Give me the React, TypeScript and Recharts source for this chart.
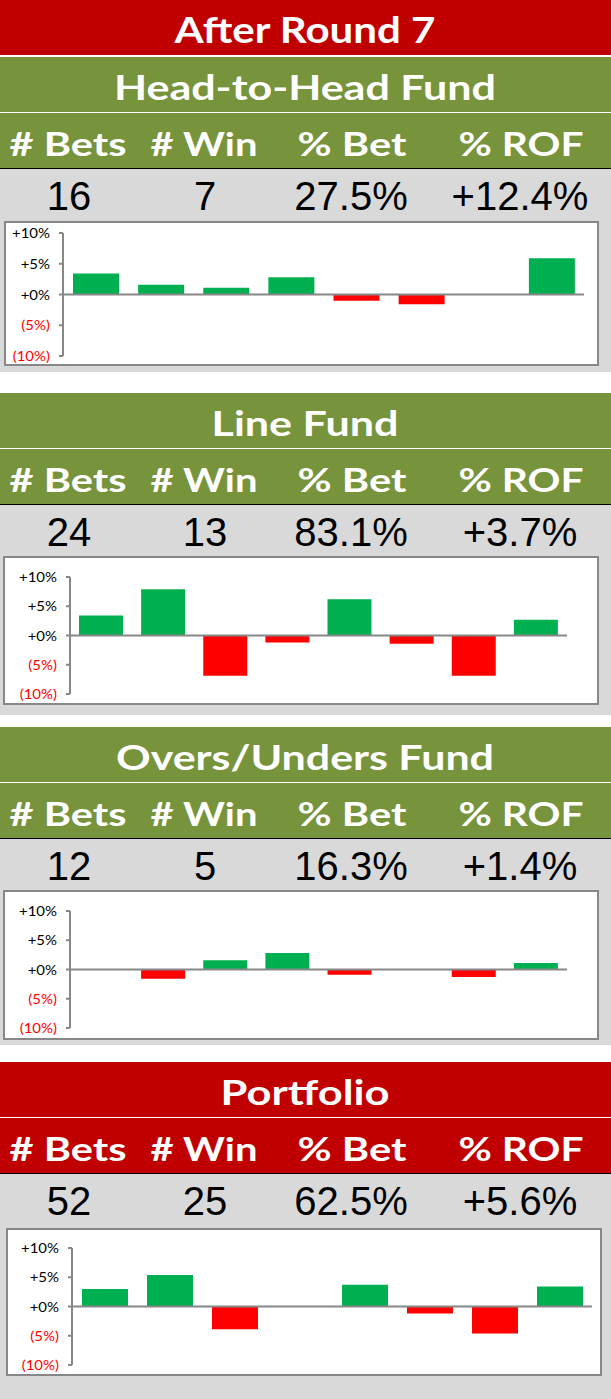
import React from "react";
import { BarChart, Bar, XAxis, YAxis, ReferenceLine, Cell } from "recharts";

const rounds = ["1", "2", "3", "4", "5", "6", "7", "8"];
const yTicks = [-10, -5, 0, 5, 10];
const statHeaders = ["# Bets", "# Win", "% Bet", "% ROF"];

const h2hStats = ["16", "7", "27.5%", "+12.4%"];
const lineStats = ["24", "13", "83.1%", "+3.7%"];
const ouStats = ["12", "5", "16.3%", "+1.4%"];
const portfolioStats = ["52", "25", "62.5%", "+5.6%"];

const h2hReturns = [3.4, 1.6, 1.1, 2.8, -1.0, -1.6, 0, 5.9];
const lineReturns = [3.4, 7.9, -6.9, -1.2, 6.2, -1.4, -6.9, 2.7];
const ouReturns = [-0.1, -1.6, 1.6, 2.8, -0.9, 0, -1.3, 1.1];
const portfolioReturns = [3.0, 5.4, -3.9, 0, 3.7, -1.2, -4.6, 3.4];

const RED = "#C00000";
const GREEN = "#77933C";
const GREY = "#D9D9D9";
const AXIS = "#878787";
const W = 611;
const colX = [68, 204, 352, 521];
const numX = [69, 205, 351, 520];
const headFont = "Lato, 'DejaVu Sans', sans-serif";
const numFont = "'Liberation Sans', Arial, sans-serif";

// the sheet's bold headings are set wider than Lato, so stretch them to the sheet's widths
const textWidths: Record<string, number> = {
  "After Round 7": 261,
  "Head-to-Head Fund": 382,
  "Line Fund": 187,
  "Overs/Unders Fund": 378,
  Portfolio: 169,
  "# Bets": 117,
  "# Win": 107,
  "% Bet": 109,
  "% ROF": 125,
};

const fmtPct = (v: number) => (v < 0 ? `(${-v}%)` : `+${v}%`);

const YTick = (props: any) => {
  const { x, y, payload } = props;
  const v = payload.value;
  return (
    <text
      transform={`translate(${x},${y}) scale(1.15,1)`}
      x={0}
      y={0}
      textAnchor="end"
      dominantBaseline="central"
      fontFamily={headFont}
      fontSize={13}
      fill={v < 0 ? "#FF0000" : "#000000"}
    >
      {fmtPct(v)}
    </text>
  );
};

const HeadText = ({ x, text, size }: { x: number; text: string; size: number }) => (
  <text
    x={x}
    y={43}
    textAnchor="middle"
    fontFamily={headFont}
    fontWeight={700}
    fontSize={size}
    fill="#ffffff"
    textLength={textWidths[text]}
    lengthAdjust="spacingAndGlyphs"
  >
    {text}
  </text>
);

const Band = ({ top, color, text, size }: { top: number; color: string; text: string; size: number }) => (
  <div style={{ position: "absolute", left: 0, top, width: W, height: 55, background: color }}>
    <svg width={W} height={55} style={{ display: "block" }}>
      <HeadText x={305} text={text} size={size} />
    </svg>
  </div>
);

interface SectionProps {
  top: number;
  color: string;
  title: string;
  stats: string[];
  values: number[];
  greyEnd: number;
  box: { x: number; y: number; w: number; h: number };
  yWidth: number;
  margin: { top: number; right: number; bottom: number };
  barSize: number;
}

const Section = ({ top, color, title, stats, values, greyEnd, box, yWidth, margin, barSize }: SectionProps) => {
  const chartData = rounds.map((r, i) => ({ round: r, ret: values[i] }));
  const greyTop = top + 112;
  return (
    <>
      <Band top={top} color={color} text={title} size={35} />
      <div style={{ position: "absolute", left: 0, top: top + 55, width: W, height: 1, background: "#ffffff" }} />
      <div style={{ position: "absolute", left: 0, top: top + 56, width: W, height: 55, background: color }}>
        <svg width={W} height={55} style={{ display: "block" }}>
          {statHeaders.map((h, i) => (
            <HeadText key={h} x={colX[i]} text={h} size={32.5} />
          ))}
        </svg>
      </div>
      <div style={{ position: "absolute", left: 0, top: top + 111, width: W, height: 1, background: "#000000" }} />
      <div style={{ position: "absolute", left: 0, top: greyTop, width: W, height: greyEnd - greyTop, background: GREY }}>
        <svg width={W} height={60} style={{ display: "block" }}>
          {stats.map((s, i) => (
            <text key={i} x={numX[i]} y={41} textAnchor="middle" fontFamily={numFont} fontSize={40} fill="#000000">
              {s}
            </text>
          ))}
        </svg>
      </div>
      <div
        style={{
          position: "absolute",
          left: box.x,
          top: box.y,
          width: box.w,
          height: box.h,
          boxSizing: "border-box",
          border: `2px solid ${AXIS}`,
          background: "#ffffff",
        }}
      >
        <BarChart
          width={box.w - 4}
          height={box.h - 4}
          data={chartData}
          margin={{ top: margin.top, right: margin.right, bottom: margin.bottom, left: 0 }}
          barSize={barSize}
        >
          <XAxis dataKey="round" hide />
          <YAxis
            width={yWidth}
            domain={[-10, 10]}
            ticks={yTicks}
            interval={0}
            axisLine={{ stroke: AXIS, strokeWidth: 2 }}
            tickLine={{ stroke: AXIS, strokeWidth: 2 }}
            tickSize={4}
            tickMargin={9}
            tick={<YTick />}
          />
          <Bar dataKey="ret" isAnimationActive={false}>
            {chartData.map((d, i) => (
              <Cell key={i} fill={d.ret < 0 ? "#FF0000" : "#00B050"} />
            ))}
          </Bar>
          <ReferenceLine y={0} stroke={AXIS} strokeWidth={2} />
        </BarChart>
      </div>
    </>
  );
};

export default function App() {
  return (
    <div style={{ position: "absolute", left: 0, top: 0, width: W, height: 1399, background: "#ffffff", overflow: "hidden" }}>
      <Band top={0} color={RED} text="After Round 7" size={37} />
      <div style={{ position: "absolute", left: 0, top: 56, width: W, height: 1, background: "#ffffff" }} />
      <Section
        top={57}
        color={GREEN}
        title="Head-to-Head Fund"
        stats={h2hStats}
        values={h2hReturns}
        greyEnd={372}
        box={{ x: 4, y: 221, w: 595, h: 145 }}
        yWidth={57}
        margin={{ top: 10, right: 13, bottom: 8 }}
        barSize={46}
      />
      <Section
        top={393}
        color={GREEN}
        title="Line Fund"
        stats={lineStats}
        values={lineReturns}
        greyEnd={715}
        box={{ x: 3, y: 556, w: 596, h: 149 }}
        yWidth={65}
        margin={{ top: 19, right: 30, bottom: 9 }}
        barSize={44}
      />
      <Section
        top={727}
        color={GREEN}
        title="Overs/Unders Fund"
        stats={ouStats}
        values={ouReturns}
        greyEnd={1045}
        box={{ x: 3, y: 890, w: 596, h: 150 }}
        yWidth={65}
        margin={{ top: 19, right: 30, bottom: 10 }}
        barSize={44}
      />
      <Section
        top={1062}
        color={RED}
        title="Portfolio"
        stats={portfolioStats}
        values={portfolioReturns}
        greyEnd={1399}
        box={{ x: 6, y: 1228, w: 596, h: 148 }}
        yWidth={64}
        margin={{ top: 18, right: 8, bottom: 9 }}
        barSize={46}
      />
    </div>
  );
}
